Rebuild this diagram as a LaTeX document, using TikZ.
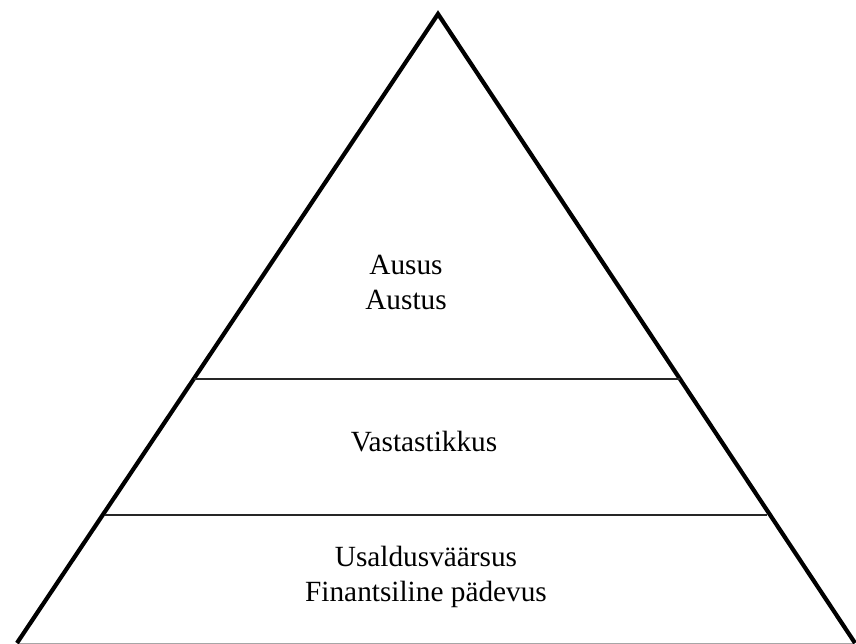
\documentclass[tikz,border=0pt]{standalone}
\usepackage{fontspec}
\setmainfont{Liberation Serif}

\begin{document}
\begin{tikzpicture}[x=1pt,y=-1pt,
    side/.style={line width=4.2pt,line join=miter},
    tier/.style={line width=1.7pt,black!85},
    tierlabel/.style={font=\fontsize{29.3}{35}\selectfont,align=center,inner sep=0pt}]
\useasboundingbox (0,0) rectangle (856,643);

% Pyramid corners
\coordinate (apex) at (438,14);
\coordinate (bl) at (17,643);
\coordinate (br) at (855,643);

% Tier boundaries
\coordinate (t1l) at (194,379);
\coordinate (t1r) at (680,379);
\coordinate (t2l) at (105,515);
\coordinate (t2r) at (767,515);

\draw[gray!70,line width=1pt] (bl) -- (br);
\draw[side] (bl) -- (apex) -- (br);
\draw[tier] (t1l) -- (t1r);
\draw[tier] (t2l) -- (t2r);

% Tier texts
\node[tierlabel] (top) at (406,282) {Ausus\\Austus};
\node[tierlabel] (mid) at (424,442) {Vastastikkus};
\node[tierlabel] (low) at (426,577) {Usaldusväärsus\\Finantsiline pädevus};

\end{tikzpicture}
\end{document}
